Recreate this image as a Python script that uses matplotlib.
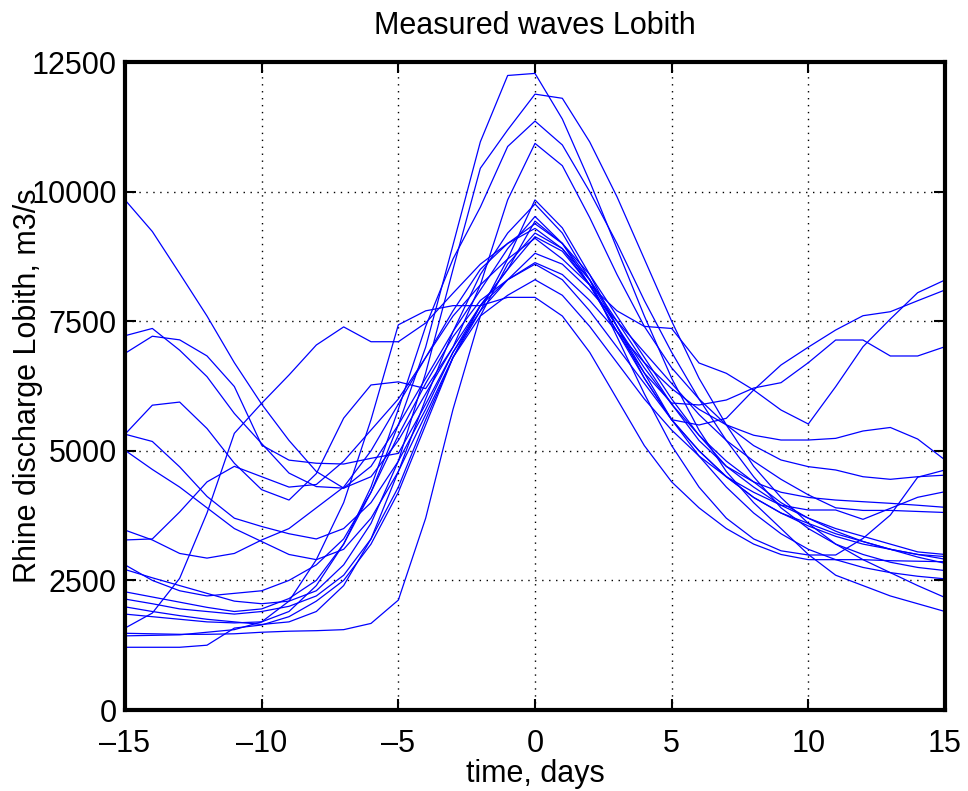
import numpy as np
import matplotlib
matplotlib.use("Agg")
import matplotlib.pyplot as plt

plt.rcParams['font.family'] = ['Liberation Sans', 'DejaVu Sans']

# time axis, days relative to the peak
days = np.arange(-15, 16)

# measured discharge waves at Lobith (m3/s), one value per day
w01 = [9840, 9230, 8420, 7600, 6700, 5900, 5200, 4600, 4280, 4700, 5500, 6400, 7300, 8100, 8900,
       9520, 9000, 8200, 7300, 6400, 5600, 5000, 4500, 4100, 3800, 3600, 3400, 3250, 3100, 3000, 2910]
w02 = [7220, 7360, 6940, 6430, 5720, 5140, 4570, 4310, 4280, 4500, 5200, 6100, 7000, 7800, 8500,
       9130, 8850, 8200, 7400, 6600, 5900, 5300, 4800, 4400, 4000, 3700, 3450, 3250, 3100, 2950, 2830]
w03 = [6880, 7210, 7140, 6830, 6240, 5110, 4820, 4760, 4745, 4855, 4950, 5900, 6900, 7700, 8300,
       8810, 8600, 8100, 7500, 6900, 6300, 5700, 5200, 4800, 4450, 4150, 3900, 3850, 3850, 3830, 3810]
w04 = [5320, 5880, 5940, 5430, 4760, 4250, 4050, 4560, 5630, 6270, 6330, 6200, 7000, 8200, 9840,
       10930, 10500, 9500, 8400, 7400, 6600, 6000, 5500, 5100, 4823, 4694, 4630, 4500, 4450, 4500, 4530]
w05 = [5320, 5180, 4690, 4120, 3700, 3540, 3400, 3300, 3500, 4000, 4800, 5800, 6900, 7800, 8300,
       8600, 8300, 7700, 7000, 6300, 5600, 5000, 4500, 4100, 3800, 3550, 3350, 3200, 3100, 3000, 2960]
w06 = [5010, 4640, 4300, 3900, 3500, 3250, 3000, 2900, 3100, 3700, 4600, 5700, 6800, 7700, 8700,
       9840, 9300, 8400, 7400, 6400, 5600, 5498, 5627, 6173, 6655, 7000, 7330, 7606, 7683, 7895, 8102]
w07 = [3470, 3280, 3020, 2930, 3020, 3280, 3500, 3900, 4300, 5000, 5900, 6800, 7600, 8200, 8700,
       9100, 8700, 8200, 7700, 7400, 7360, 6694, 6495, 6172, 5787, 5517, 6237, 7008, 7542, 8050, 8295]
w08 = [3280, 3300, 3820, 4400, 4700, 4500, 4300, 4350, 4800, 5400, 6000, 6800, 7700, 8500, 9000,
       9290, 8900, 8200, 7300, 6500, 5922, 5884, 5980, 6211, 6314, 6700, 7137, 7137, 6829, 6829, 7008]
w09 = [2800, 2500, 2300, 2200, 2250, 2300, 2500, 2800, 3300, 4200, 5500, 7000, 8970, 10960, 12240,
       12280, 11400, 10200, 8900, 7600, 6400, 5400, 4600, 4000, 3500, 3000, 2600, 2400, 2200, 2050, 1900]
w10 = [2710, 2550, 2400, 2250, 2100, 2050, 2100, 2300, 2800, 3600, 4800, 6500, 8500, 10450, 11190,
       11880, 11800, 10960, 9900, 8700, 7500, 6400, 5500, 4700, 4100, 3600, 3200, 2900, 2650, 2400, 2170]
w11 = [2280, 2180, 2080, 1980, 1900, 1950, 2150, 2500, 3200, 4300, 5800, 7400, 8700, 9700, 10870,
       11360, 10900, 10000, 9000, 7900, 6900, 6000, 5200, 4500, 3900, 3500, 3200, 3000, 2850, 2750, 2690]
w12 = [1580, 1870, 2540, 3800, 5337, 5917, 6462, 7041, 7390, 7104, 7104, 7465, 8040, 8600, 9000,
       9380, 9000, 8400, 7600, 6800, 6000, 5300, 4700, 4300, 3950, 3700, 3500, 3350, 3200, 3050, 3000]
w13 = [2140, 2050, 1950, 1900, 1850, 1900, 2000, 2200, 2600, 3300, 4300, 5600, 6800, 7800, 8500,
       9430, 9000, 8300, 7400, 6500, 5600, 4900, 4300, 3800, 3400, 3100, 2900, 2750, 2650, 2580, 2530]
w14 = [1990, 1900, 1820, 1750, 1700, 1650, 1700, 1900, 2400, 3300, 4600, 6000, 7300, 8400, 9200,
       9760, 9200, 8300, 7200, 6100, 5100, 4300, 3700, 3300, 3071, 2990, 2990, 3310, 3760, 4490, 4630]
w15 = [1850, 1800, 1750, 1700, 1680, 1700, 1900, 2400, 3200, 4200, 5300, 6300, 7200, 7900, 8300,
       8630, 8400, 7900, 7300, 6700, 6200, 5800, 5500, 5300, 5208, 5208, 5240, 5382, 5450, 5227, 4823]
w16 = [1210, 1210, 1210, 1250, 1580, 1640, 1800, 2100, 2500, 3200, 4200, 5500, 6800, 7600, 8000,
       8300, 8000, 7400, 6700, 6000, 5400, 4900, 4500, 4200, 3950, 3858, 3858, 3678, 3890, 4103, 4211]
w17 = [1430, 1440, 1450, 1500, 1550, 1700, 2100, 2900, 4000, 5600, 7430, 7700, 7800, 7800, 7960,
       7960, 7600, 6900, 6000, 5100, 4400, 3900, 3500, 3200, 3000, 2900, 2900, 2900, 2880, 2870, 2860]
w18 = [1480, 1470, 1460, 1460, 1470, 1500, 1520, 1530, 1550, 1670, 2120, 3700, 5800, 7600, 8600,
       9200, 8900, 8300, 7500, 6700, 5900, 5200, 4700, 4400, 4200, 4100, 4050, 4018, 3987, 3950, 3910]

waves = [w01, w02, w03, w04, w05, w06, w07, w08, w09,
         w10, w11, w12, w13, w14, w15, w16, w17, w18]

xticks = [-15, -10, -5, 0, 5, 10, 15]
yticks = [0, 2500, 5000, 7500, 10000, 12500]

fig = plt.figure(figsize=(9.68, 7.91), dpi=100)
ax = fig.add_axes([125 / 968, 81 / 791, 820 / 968, 648 / 791])

for w in waves:
    ax.plot(days, w, color='#0000ff', linewidth=0.9)

ax.set_xlim(-15, 15)
ax.set_ylim(0, 12500)
ax.set_xticks(xticks)
ax.set_yticks(yticks)
ax.set_xticklabels(['\u2013' + str(-t) if t < 0 else str(t) for t in xticks])
ax.tick_params(direction='in', length=8, width=1.5, labelsize=22,
               top=True, right=True, pad=6)
ax.tick_params(axis='x', pad=14)
ax.grid(True, color='black', linestyle=(0, (1, 4)), linewidth=1)
for s in ax.spines.values():
    s.set_linewidth(3)

ax.set_title('Measured waves Lobith', fontsize=22, pad=20)
ax.set_xlabel('time, days', fontsize=22, labelpad=0)
ax.set_ylabel('Rhine discharge Lobith, m3/s', fontsize=22)
ax.yaxis.set_label_coords(-0.1, 0.5)

fig.savefig('out.png', dpi=100)
